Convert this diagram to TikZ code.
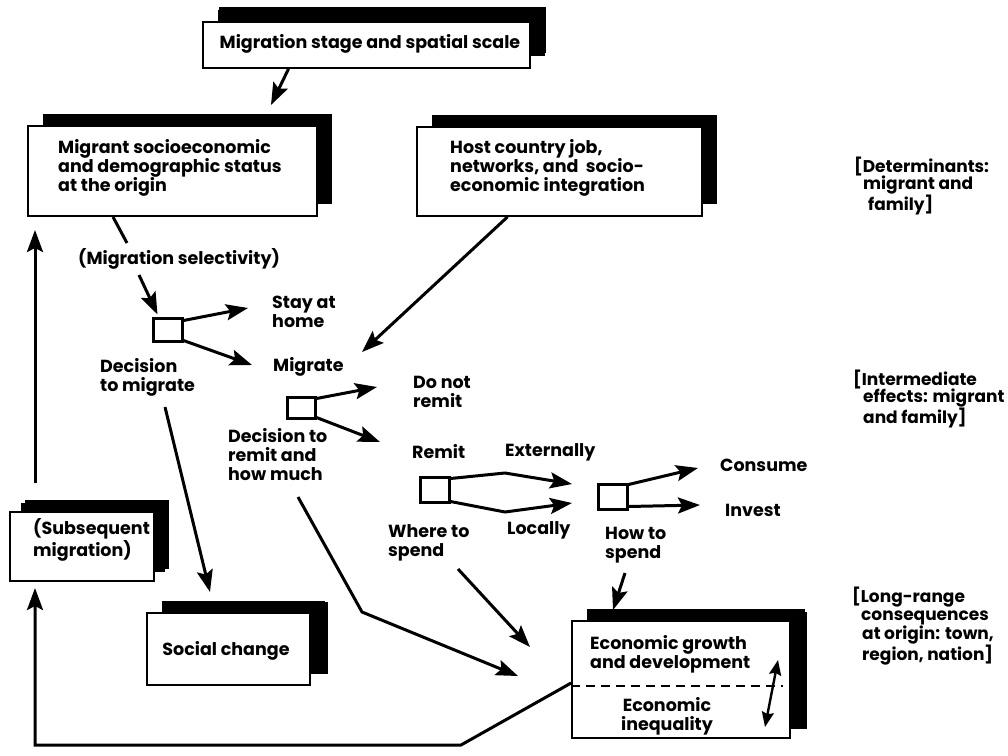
\documentclass[tikz,border=0pt]{standalone}
\usepackage{fontspec}
\setmainfont{Poppins}
\usetikzlibrary{arrows.meta,calc,shadows}
\begin{document}
\begin{tikzpicture}[x=1pt,y=-1pt,
  font=\fontsize{17.5}{19}\selectfont\bfseries,
  box/.style={draw, line width=1.8pt, fill=white, inner sep=0pt,
    drop shadow={shadow xshift=15pt, shadow yshift=12pt, opacity=1, fill=black}},
  dec/.style={draw, line width=3pt, inner sep=0pt},
  txt/.style={inner sep=0pt, align=left, anchor=west},
  ln/.style={line width=3pt},
  arr/.style={line width=3pt, -{Stealth[length=22pt,width=16pt,inset=4pt]}},
  darr/.style={line width=2.4pt, {Stealth[length=15pt,width=12pt,inset=2pt]}-{Stealth[length=15pt,width=12pt,inset=2pt]}}
]
\useasboundingbox (0,0) rectangle (1008,755);

% boxes
\node[box, minimum width=327pt, minimum height=46pt, drop shadow={shadow xshift=16pt, shadow yshift=15pt, opacity=1, fill=black}] (top) at (366.5,45) {};
\node[txt, anchor=center] (topt) at (370,44) {Migration stage and spatial scale};

\node[box, minimum width=289pt, minimum height=90pt] (mig) at (172.5,171) {};
\node[txt] (migt) at (58,168) {Migrant socioeconomic\\and demographic status\\at the origin};

\node[box, minimum width=285pt, minimum height=89pt] (host) at (559.5,171.5) {};
\node[txt] (hostt) at (450,168) {Host country job,\\networks, and\ \ socio-\\economic integration};

\node[box, minimum width=144pt, minimum height=69pt, drop shadow={shadow xshift=11pt, shadow yshift=9pt, opacity=1, fill=black}] (subs) at (82,546.5) {};
\node[txt] (subst) at (33,540) {(Subsequent\\migration)};

\node[box, minimum width=163pt, minimum height=72pt, drop shadow={shadow xshift=18pt, shadow yshift=11pt, opacity=1, fill=black}] (soc) at (228.5,649) {};
\node[txt, anchor=center] (soct) at (226,651) {Social change};

\node[box, minimum width=218pt, minimum height=117pt, drop shadow={shadow xshift=17pt, shadow yshift=9pt, opacity=1, fill=black}] (econ) at (681,679.5) {};
\node[txt] (econt1) at (590,654.5) {Economic growth\\and development};
\node[txt, anchor=center, align=center] (econt2) at (667,716) {Economic\\inequality};
\draw[line width=1.8pt, dash pattern=on 9pt off 6pt] ([yshift=-6.5pt]econ.west) -- ([xshift=-8pt,yshift=-6.5pt]econ.east);

% decision squares
\node[dec, minimum width=29pt, minimum height=23pt] (d1) at (167.5,329.5) {};
\node[dec, minimum width=28pt, minimum height=21pt] (d2) at (301,407.5) {};
\node[dec, minimum width=29pt, minimum height=25pt] (d3) at (434.5,489.5) {};
\node[dec, minimum width=29pt, minimum height=25pt] (d4) at (612.5,496.5) {};

% labels
\node[txt] (sel) at (78,259) {(Migration selectivity)};
\node[txt] (stay) at (272,312) {Stay at\\home};
\node[txt] (migr) at (273,367) {Migrate};
\node[txt] (decmig) at (100,377) {Decision\\to migrate};
\node[txt] (donot) at (413,392) {Do not\\remit};
\node[txt] (decrem) at (228,455) {Decision to\\remit and\\how much};
\node[txt] (remit) at (412,452) {Remit};
\node[txt] (ext) at (505,452) {Externally};
\node[txt] (loc) at (507,530) {Locally};
\node[txt] (where) at (388,543) {Where to\\spend};
\node[txt] (how) at (605,545) {How to\\spend};
\node[txt] (cons) at (720,465) {Consume};
\node[txt] (inv) at (725,510) {Invest};

\node[txt, font=\fontsize{17}{17.5}\selectfont\bfseries] (ann1) at (854,186) {[Determinants:\\\hspace*{9pt}migrant and\\\hspace*{14pt}family]};
\node[txt, font=\fontsize{17}{17.5}\selectfont\bfseries] (ann2) at (853,399) {[Intermediate\\\hspace*{10pt}effects: migrant\\\hspace*{10pt}and family]};
\node[txt, font=\fontsize{17}{17.5}\selectfont\bfseries] (ann3) at (852,626) {[Long-range\\\hspace*{9pt}consequences\\\hspace*{10pt}at origin: town,\\\hspace*{10pt}region, nation]};

% free ends
\coordinate (p1) at (271,105);
\coordinate (p2) at (127,243);
\coordinate (p3a) at (139,275);
\coordinate (p4) at (248,308);
\coordinate (p5) at (252,365);
\coordinate (p6) at (362,352);
\coordinate (p7) at (377,387);
\coordinate (p8) at (380,442);
\coordinate (k9) at (505,473);
\coordinate (p9) at (572,484);
\coordinate (k10) at (505,512);
\coordinate (p10) at (572,503);
\coordinate (p11) at (698,468);
\coordinate (p12) at (700,505);
\coordinate (p13a) at (165,407);
\coordinate (p13) at (210,592);
\coordinate (p14a) at (298,497);
\coordinate (k14) at (362,612);
\coordinate (p14) at (518,676);
\coordinate (p15a) at (458,569);
\coordinate (p15) at (530,647);
\coordinate (p16a) at (625,573);
\coordinate (p16) at (613,610);
\coordinate (k17a) at (461,745);
\coordinate (k17b) at (35,745);
\coordinate (p17) at (35,588);
\coordinate (p18a) at (35,483);
\coordinate (p18) at (35,230);
\coordinate (p19a) at (778,660);
\coordinate (p19b) at (765,727);

% connectors
\draw[arr] ([xshift=-78pt]top.south) -- (p1);
\draw[ln] ([xshift=-59.5pt]mig.south) -- (p2);
\draw[arr] (p3a) -- ([xshift=6pt,yshift=2pt]d1.north west);
\draw[arr] ([yshift=-4pt]d1.north east) -- (p4);
\draw[arr] ([yshift=2pt]d1.south east) -- (p5);
\draw[arr] ([xshift=-52pt]host.south) -- (p6);
\draw[arr] ([yshift=-3pt]d2.north east) -- (p7);
\draw[arr] ([yshift=2pt]d2.south east) -- (p8);
\draw[arr] ([yshift=-3pt]d3.north east) -- (k9) -- (p9);
\draw[arr] ([yshift=2pt]d3.south east) -- (k10) -- (p10);
\draw[arr] ([yshift=-2pt]d4.north east) -- (p11);
\draw[arr] ([yshift=4pt]d4.south east) -- (p12);
\draw[arr] (p13a) -- (p13);
\draw[arr] (p14a) -- (k14) -- (p14);
\draw[arr] (p15a) -- (p15);
\draw[arr] (p16a) -- (p16);
\draw[arr] ([yshift=-3.5pt]econ.west) -- (k17a) -- (k17b) -- (p17);
\draw[arr] (p18a) -- (p18);
\draw[darr] (p19a) -- (p19b);
\end{tikzpicture}
\end{document}
